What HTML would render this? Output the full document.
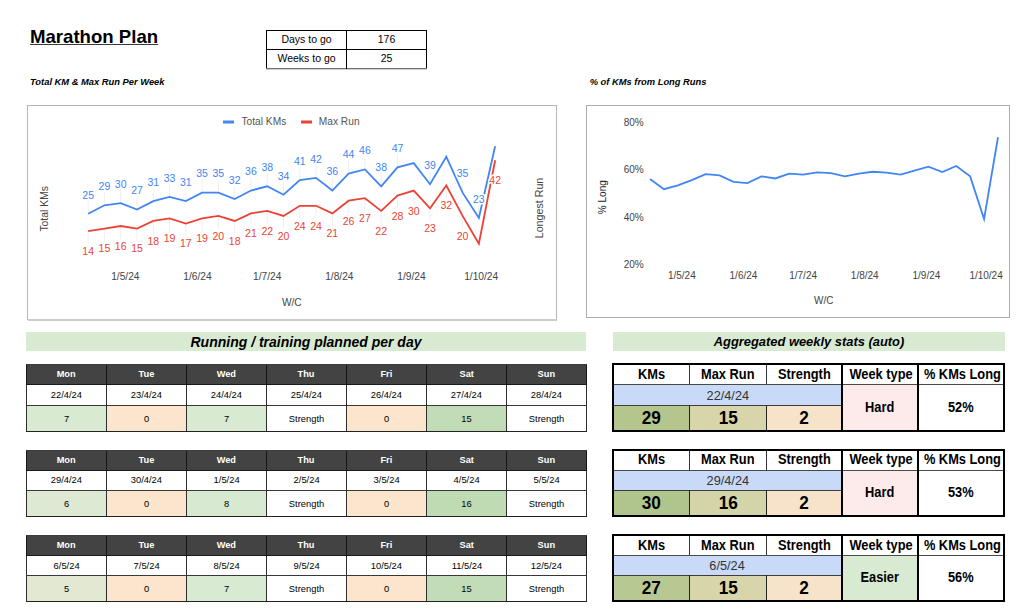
<!DOCTYPE html><html><head><meta charset="utf-8"><title>Marathon Plan</title><style>
*{margin:0;padding:0;box-sizing:border-box}
html,body{width:1023px;height:611px;overflow:hidden;background:#fff}
body{position:relative;font-family:"Liberation Sans", sans-serif;color:#000}
.a{position:absolute}
.c{position:absolute;display:flex;align-items:center;justify-content:center;white-space:nowrap}
svg{position:absolute;left:0;top:0}
.n{display:inline-block;transform:scaleX(0.935)}
.m{display:inline-block;transform:scaleX(0.955)}
.s{display:inline-block;transform:scaleX(0.93)}

</style></head><body>
<div class="a" style="left:30px;top:26px;font-size:18.6px;font-weight:bold;text-decoration:underline;text-decoration-color:#3a3a3a;line-height:22px">Marathon Plan</div>
<div class="a" style="left:266px;top:30px;width:161px;height:38px;border:1px solid #000;border-bottom:0"></div>
<div class="a" style="left:266px;top:68px;width:161px;height:1px;background:#707070"></div>
<div class="a" style="left:266px;top:69px;width:161px;height:1px;background:#d0d0d0"></div>
<div class="a" style="left:266px;top:49px;width:161px;height:1px;background:#000"></div>
<div class="a" style="left:346px;top:30px;width:1px;height:39px;background:#000"></div>
<div class="c" style="left:267px;top:30px;width:79px;height:18px;font-size:10.5px">Days to go</div>
<div class="c" style="left:347px;top:30px;width:79px;height:18px;font-size:10.5px">176</div>
<div class="c" style="left:267px;top:49.3px;width:79px;height:18px;font-size:10.5px">Weeks to go</div>
<div class="c" style="left:347px;top:49.3px;width:79px;height:18px;font-size:10.5px">25</div>
<div class="a" style="left:30px;top:77px;font-size:9.35px;font-weight:bold;font-style:italic;line-height:11px">Total KM &amp; Max Run Per Week</div>
<div class="a" style="left:589.7px;top:77px;font-size:9.35px;font-weight:bold;font-style:italic;line-height:11px">% of KMs from Long Runs</div>
<svg width="1023" height="611" viewBox="0 0 1023 611" style="font-family:"Liberation Sans", sans-serif"><rect x="27.5" y="105.5" width="529" height="214" fill="#fff" stroke="#b5b5b5" stroke-width="1"/><rect x="28" y="319" width="529" height="2" fill="#cbcbcb"/><rect x="586.5" y="105.5" width="423" height="212" fill="#fff" stroke="#ababab" stroke-width="1"/><line x1="88.15" y1="213.75" x2="88.15" y2="200.75" stroke="#efefef" stroke-width="1"/><line x1="104.43" y1="205.31" x2="104.43" y2="192.31" stroke="#efefef" stroke-width="1"/><line x1="120.71" y1="203.2" x2="120.71" y2="190.2" stroke="#efefef" stroke-width="1"/><line x1="136.99" y1="209.53" x2="136.99" y2="196.53" stroke="#efefef" stroke-width="1"/><line x1="153.27" y1="201.09" x2="153.27" y2="188.09" stroke="#efefef" stroke-width="1"/><line x1="169.55" y1="196.87" x2="169.55" y2="183.87" stroke="#efefef" stroke-width="1"/><line x1="185.83" y1="201.09" x2="185.83" y2="188.09" stroke="#efefef" stroke-width="1"/><line x1="202.11" y1="192.65" x2="202.11" y2="179.65" stroke="#efefef" stroke-width="1"/><line x1="218.39" y1="192.65" x2="218.39" y2="179.65" stroke="#efefef" stroke-width="1"/><line x1="234.67" y1="198.98" x2="234.67" y2="185.98" stroke="#efefef" stroke-width="1"/><line x1="250.95" y1="190.54" x2="250.95" y2="177.54" stroke="#efefef" stroke-width="1"/><line x1="267.23" y1="186.32" x2="267.23" y2="173.32" stroke="#efefef" stroke-width="1"/><line x1="283.51" y1="194.76" x2="283.51" y2="181.76" stroke="#efefef" stroke-width="1"/><line x1="299.79" y1="179.99" x2="299.79" y2="166.99" stroke="#efefef" stroke-width="1"/><line x1="316.07" y1="177.88" x2="316.07" y2="164.88" stroke="#efefef" stroke-width="1"/><line x1="332.35" y1="190.54" x2="332.35" y2="177.54" stroke="#efefef" stroke-width="1"/><line x1="348.63" y1="173.66" x2="348.63" y2="160.66" stroke="#efefef" stroke-width="1"/><line x1="364.91" y1="169.44" x2="364.91" y2="156.44" stroke="#efefef" stroke-width="1"/><line x1="381.19" y1="186.32" x2="381.19" y2="173.32" stroke="#efefef" stroke-width="1"/><line x1="397.47" y1="167.33" x2="397.47" y2="154.33" stroke="#efefef" stroke-width="1"/><line x1="430.03" y1="184.21" x2="430.03" y2="171.21" stroke="#efefef" stroke-width="1"/><line x1="462.59" y1="192.65" x2="462.59" y2="179.65" stroke="#efefef" stroke-width="1"/><line x1="478.87" y1="217.97" x2="478.87" y2="204.97" stroke="#efefef" stroke-width="1"/><line x1="88.15" y1="231.08" x2="88.15" y2="244.08" stroke="#efefef" stroke-width="1"/><line x1="104.43" y1="228.55" x2="104.43" y2="241.55" stroke="#efefef" stroke-width="1"/><line x1="120.71" y1="226.02" x2="120.71" y2="239.02" stroke="#efefef" stroke-width="1"/><line x1="136.99" y1="228.55" x2="136.99" y2="241.55" stroke="#efefef" stroke-width="1"/><line x1="153.27" y1="220.96" x2="153.27" y2="233.96" stroke="#efefef" stroke-width="1"/><line x1="169.55" y1="218.43" x2="169.55" y2="231.43" stroke="#efefef" stroke-width="1"/><line x1="185.83" y1="223.49" x2="185.83" y2="236.49" stroke="#efefef" stroke-width="1"/><line x1="202.11" y1="218.43" x2="202.11" y2="231.43" stroke="#efefef" stroke-width="1"/><line x1="218.39" y1="215.9" x2="218.39" y2="228.9" stroke="#efefef" stroke-width="1"/><line x1="234.67" y1="220.96" x2="234.67" y2="233.96" stroke="#efefef" stroke-width="1"/><line x1="250.95" y1="213.37" x2="250.95" y2="226.37" stroke="#efefef" stroke-width="1"/><line x1="267.23" y1="210.84" x2="267.23" y2="223.84" stroke="#efefef" stroke-width="1"/><line x1="283.51" y1="215.9" x2="283.51" y2="228.9" stroke="#efefef" stroke-width="1"/><line x1="299.79" y1="205.78" x2="299.79" y2="218.78" stroke="#efefef" stroke-width="1"/><line x1="316.07" y1="205.78" x2="316.07" y2="218.78" stroke="#efefef" stroke-width="1"/><line x1="332.35" y1="213.37" x2="332.35" y2="226.37" stroke="#efefef" stroke-width="1"/><line x1="348.63" y1="200.72" x2="348.63" y2="213.72" stroke="#efefef" stroke-width="1"/><line x1="364.91" y1="198.19" x2="364.91" y2="211.19" stroke="#efefef" stroke-width="1"/><line x1="381.19" y1="210.84" x2="381.19" y2="223.84" stroke="#efefef" stroke-width="1"/><line x1="397.47" y1="195.66" x2="397.47" y2="208.66" stroke="#efefef" stroke-width="1"/><line x1="413.75" y1="190.6" x2="413.75" y2="203.6" stroke="#efefef" stroke-width="1"/><line x1="430.03" y1="208.31" x2="430.03" y2="221.31" stroke="#efefef" stroke-width="1"/><line x1="446.31" y1="185.54" x2="446.31" y2="198.54" stroke="#efefef" stroke-width="1"/><line x1="462.59" y1="215.9" x2="462.59" y2="228.9" stroke="#efefef" stroke-width="1"/><line x1="495.15" y1="160.24" x2="495.15" y2="173.24" stroke="#efefef" stroke-width="1"/><polyline points="88.15,231.08 104.43,228.55 120.71,226.02 136.99,228.55 153.27,220.96 169.55,218.43 185.83,223.49 202.11,218.43 218.39,215.9 234.67,220.96 250.95,213.37 267.23,210.84 283.51,215.9 299.79,205.78 316.07,205.78 332.35,213.37 348.63,200.72 364.91,198.19 381.19,210.84 397.47,195.66 413.75,190.6 430.03,208.31 446.31,185.54 462.59,215.9 478.87,243.73 495.15,160.24" fill="none" stroke="#ea4335" stroke-width="1.8" stroke-linejoin="miter" stroke-miterlimit="10"/><polyline points="88.15,213.75 104.43,205.31 120.71,203.2 136.99,209.53 153.27,201.09 169.55,196.87 185.83,201.09 202.11,192.65 218.39,192.65 234.67,198.98 250.95,190.54 267.23,186.32 283.51,194.76 299.79,179.99 316.07,177.88 332.35,190.54 348.63,173.66 364.91,169.44 381.19,186.32 397.47,167.33 413.75,163.11 430.03,184.21 446.31,156.78 462.59,192.65 478.87,217.97 495.15,146.23" fill="none" stroke="#4285f4" stroke-width="1.8" stroke-linejoin="miter" stroke-miterlimit="10"/><text x="88.15" y="198.55" font-size="10.5" fill="#4285f4" text-anchor="middle" stroke="#fff" stroke-width="3" stroke-linejoin="round" paint-order="stroke">25</text><text x="104.43" y="190.11" font-size="10.5" fill="#4285f4" text-anchor="middle" stroke="#fff" stroke-width="3" stroke-linejoin="round" paint-order="stroke">29</text><text x="120.71" y="188" font-size="10.5" fill="#4285f4" text-anchor="middle" stroke="#fff" stroke-width="3" stroke-linejoin="round" paint-order="stroke">30</text><text x="136.99" y="194.33" font-size="10.5" fill="#4285f4" text-anchor="middle" stroke="#fff" stroke-width="3" stroke-linejoin="round" paint-order="stroke">27</text><text x="153.27" y="185.89" font-size="10.5" fill="#4285f4" text-anchor="middle" stroke="#fff" stroke-width="3" stroke-linejoin="round" paint-order="stroke">31</text><text x="169.55" y="181.67" font-size="10.5" fill="#4285f4" text-anchor="middle" stroke="#fff" stroke-width="3" stroke-linejoin="round" paint-order="stroke">33</text><text x="185.83" y="185.89" font-size="10.5" fill="#4285f4" text-anchor="middle" stroke="#fff" stroke-width="3" stroke-linejoin="round" paint-order="stroke">31</text><text x="202.11" y="177.45" font-size="10.5" fill="#4285f4" text-anchor="middle" stroke="#fff" stroke-width="3" stroke-linejoin="round" paint-order="stroke">35</text><text x="218.39" y="177.45" font-size="10.5" fill="#4285f4" text-anchor="middle" stroke="#fff" stroke-width="3" stroke-linejoin="round" paint-order="stroke">35</text><text x="234.67" y="183.78" font-size="10.5" fill="#4285f4" text-anchor="middle" stroke="#fff" stroke-width="3" stroke-linejoin="round" paint-order="stroke">32</text><text x="250.95" y="175.34" font-size="10.5" fill="#4285f4" text-anchor="middle" stroke="#fff" stroke-width="3" stroke-linejoin="round" paint-order="stroke">36</text><text x="267.23" y="171.12" font-size="10.5" fill="#4285f4" text-anchor="middle" stroke="#fff" stroke-width="3" stroke-linejoin="round" paint-order="stroke">38</text><text x="283.51" y="179.56" font-size="10.5" fill="#4285f4" text-anchor="middle" stroke="#fff" stroke-width="3" stroke-linejoin="round" paint-order="stroke">34</text><text x="299.79" y="164.79" font-size="10.5" fill="#4285f4" text-anchor="middle" stroke="#fff" stroke-width="3" stroke-linejoin="round" paint-order="stroke">41</text><text x="316.07" y="162.68" font-size="10.5" fill="#4285f4" text-anchor="middle" stroke="#fff" stroke-width="3" stroke-linejoin="round" paint-order="stroke">42</text><text x="332.35" y="175.34" font-size="10.5" fill="#4285f4" text-anchor="middle" stroke="#fff" stroke-width="3" stroke-linejoin="round" paint-order="stroke">36</text><text x="348.63" y="158.46" font-size="10.5" fill="#4285f4" text-anchor="middle" stroke="#fff" stroke-width="3" stroke-linejoin="round" paint-order="stroke">44</text><text x="364.91" y="154.24" font-size="10.5" fill="#4285f4" text-anchor="middle" stroke="#fff" stroke-width="3" stroke-linejoin="round" paint-order="stroke">46</text><text x="381.19" y="171.12" font-size="10.5" fill="#4285f4" text-anchor="middle" stroke="#fff" stroke-width="3" stroke-linejoin="round" paint-order="stroke">38</text><text x="397.47" y="152.13" font-size="10.5" fill="#4285f4" text-anchor="middle" stroke="#fff" stroke-width="3" stroke-linejoin="round" paint-order="stroke">47</text><text x="430.03" y="169.01" font-size="10.5" fill="#4285f4" text-anchor="middle" stroke="#fff" stroke-width="3" stroke-linejoin="round" paint-order="stroke">39</text><text x="462.59" y="177.45" font-size="10.5" fill="#4285f4" text-anchor="middle" stroke="#fff" stroke-width="3" stroke-linejoin="round" paint-order="stroke">35</text><text x="478.87" y="202.77" font-size="10.5" fill="#4285f4" text-anchor="middle" stroke="#fff" stroke-width="3" stroke-linejoin="round" paint-order="stroke">23</text><text x="88.15" y="254.98" font-size="10.5" fill="#ea4335" text-anchor="middle" stroke="#fff" stroke-width="3" stroke-linejoin="round" paint-order="stroke">14</text><text x="104.43" y="252.45" font-size="10.5" fill="#ea4335" text-anchor="middle" stroke="#fff" stroke-width="3" stroke-linejoin="round" paint-order="stroke">15</text><text x="120.71" y="249.92" font-size="10.5" fill="#ea4335" text-anchor="middle" stroke="#fff" stroke-width="3" stroke-linejoin="round" paint-order="stroke">16</text><text x="136.99" y="252.45" font-size="10.5" fill="#ea4335" text-anchor="middle" stroke="#fff" stroke-width="3" stroke-linejoin="round" paint-order="stroke">15</text><text x="153.27" y="244.86" font-size="10.5" fill="#ea4335" text-anchor="middle" stroke="#fff" stroke-width="3" stroke-linejoin="round" paint-order="stroke">18</text><text x="169.55" y="242.33" font-size="10.5" fill="#ea4335" text-anchor="middle" stroke="#fff" stroke-width="3" stroke-linejoin="round" paint-order="stroke">19</text><text x="185.83" y="247.39" font-size="10.5" fill="#ea4335" text-anchor="middle" stroke="#fff" stroke-width="3" stroke-linejoin="round" paint-order="stroke">17</text><text x="202.11" y="242.33" font-size="10.5" fill="#ea4335" text-anchor="middle" stroke="#fff" stroke-width="3" stroke-linejoin="round" paint-order="stroke">19</text><text x="218.39" y="239.8" font-size="10.5" fill="#ea4335" text-anchor="middle" stroke="#fff" stroke-width="3" stroke-linejoin="round" paint-order="stroke">20</text><text x="234.67" y="244.86" font-size="10.5" fill="#ea4335" text-anchor="middle" stroke="#fff" stroke-width="3" stroke-linejoin="round" paint-order="stroke">18</text><text x="250.95" y="237.27" font-size="10.5" fill="#ea4335" text-anchor="middle" stroke="#fff" stroke-width="3" stroke-linejoin="round" paint-order="stroke">21</text><text x="267.23" y="234.74" font-size="10.5" fill="#ea4335" text-anchor="middle" stroke="#fff" stroke-width="3" stroke-linejoin="round" paint-order="stroke">22</text><text x="283.51" y="239.8" font-size="10.5" fill="#ea4335" text-anchor="middle" stroke="#fff" stroke-width="3" stroke-linejoin="round" paint-order="stroke">20</text><text x="299.79" y="229.68" font-size="10.5" fill="#ea4335" text-anchor="middle" stroke="#fff" stroke-width="3" stroke-linejoin="round" paint-order="stroke">24</text><text x="316.07" y="229.68" font-size="10.5" fill="#ea4335" text-anchor="middle" stroke="#fff" stroke-width="3" stroke-linejoin="round" paint-order="stroke">24</text><text x="332.35" y="237.27" font-size="10.5" fill="#ea4335" text-anchor="middle" stroke="#fff" stroke-width="3" stroke-linejoin="round" paint-order="stroke">21</text><text x="348.63" y="224.62" font-size="10.5" fill="#ea4335" text-anchor="middle" stroke="#fff" stroke-width="3" stroke-linejoin="round" paint-order="stroke">26</text><text x="364.91" y="222.09" font-size="10.5" fill="#ea4335" text-anchor="middle" stroke="#fff" stroke-width="3" stroke-linejoin="round" paint-order="stroke">27</text><text x="381.19" y="234.74" font-size="10.5" fill="#ea4335" text-anchor="middle" stroke="#fff" stroke-width="3" stroke-linejoin="round" paint-order="stroke">22</text><text x="397.47" y="219.56" font-size="10.5" fill="#ea4335" text-anchor="middle" stroke="#fff" stroke-width="3" stroke-linejoin="round" paint-order="stroke">28</text><text x="413.75" y="214.5" font-size="10.5" fill="#ea4335" text-anchor="middle" stroke="#fff" stroke-width="3" stroke-linejoin="round" paint-order="stroke">30</text><text x="430.03" y="232.21" font-size="10.5" fill="#ea4335" text-anchor="middle" stroke="#fff" stroke-width="3" stroke-linejoin="round" paint-order="stroke">23</text><text x="446.31" y="209.44" font-size="10.5" fill="#ea4335" text-anchor="middle" stroke="#fff" stroke-width="3" stroke-linejoin="round" paint-order="stroke">32</text><text x="462.59" y="239.8" font-size="10.5" fill="#ea4335" text-anchor="middle" stroke="#fff" stroke-width="3" stroke-linejoin="round" paint-order="stroke">20</text><text x="495.15" y="184.14" font-size="10.5" fill="#ea4335" text-anchor="middle" stroke="#fff" stroke-width="3" stroke-linejoin="round" paint-order="stroke">42</text><rect x="223" y="120.5" width="11" height="3" fill="#4285f4"/><text x="241.5" y="125.1" font-size="10.2" fill="#555">Total KMs</text><rect x="301" y="120.5" width="11" height="3" fill="#ea4335"/><text x="318.8" y="125.1" font-size="10.2" fill="#555">Max Run</text><text transform="translate(48,208.8) rotate(-90)" font-size="10.4" fill="#444" text-anchor="middle">Total KMs</text><text transform="translate(542.7,208) rotate(-90)" font-size="10.7" fill="#444" text-anchor="middle">Longest Run</text><text x="125.36" y="279.8" font-size="10.2" fill="#444" text-anchor="middle">1/5/24</text><text x="197.46" y="279.8" font-size="10.2" fill="#444" text-anchor="middle">1/6/24</text><text x="267.23" y="279.8" font-size="10.2" fill="#444" text-anchor="middle">1/7/24</text><text x="339.33" y="279.8" font-size="10.2" fill="#444" text-anchor="middle">1/8/24</text><text x="411.42" y="279.8" font-size="10.2" fill="#444" text-anchor="middle">1/9/24</text><text x="481.2" y="279.8" font-size="10.2" fill="#444" text-anchor="middle">1/10/24</text><text x="291.8" y="305.8" font-size="10.2" fill="#444" text-anchor="middle">W/C</text><text x="643.7" y="125.9" font-size="10" fill="#444" text-anchor="end">80%</text><text x="643.7" y="173.2" font-size="10" fill="#444" text-anchor="end">60%</text><text x="643.7" y="220.5" font-size="10" fill="#444" text-anchor="end">40%</text><text x="643.7" y="267.8" font-size="10" fill="#444" text-anchor="end">20%</text><text transform="translate(605.8,197.2) rotate(-90)" font-size="10" fill="#222" text-anchor="middle">% Long</text><text x="681.82" y="278.6" font-size="10" fill="#444" text-anchor="middle">1/5/24</text><text x="743.46" y="278.6" font-size="10" fill="#444" text-anchor="middle">1/6/24</text><text x="803.12" y="278.6" font-size="10" fill="#444" text-anchor="middle">1/7/24</text><text x="864.77" y="278.6" font-size="10" fill="#444" text-anchor="middle">1/8/24</text><text x="926.41" y="278.6" font-size="10" fill="#444" text-anchor="middle">1/9/24</text><text x="986.07" y="278.6" font-size="10" fill="#444" text-anchor="middle">1/10/24</text><text x="823.8" y="304" font-size="10" fill="#444" text-anchor="middle">W/C</text><polyline points="650,179.06 663.92,189.17 677.84,185.37 691.76,180.11 705.68,174.18 719.6,175.33 733.52,181.81 747.44,183.11 761.36,176.36 775.28,178.47 789.2,173.54 803.12,174.58 817.04,172.38 830.96,173.06 844.88,176.36 858.8,173.54 872.72,171.75 886.64,172.68 900.56,174.58 914.48,170.61 928.4,166.7 942.32,172.03 956.24,165.96 970.16,176.36 984.08,218.96 998,137.24" fill="none" stroke="#4285f4" stroke-width="1.8" stroke-linejoin="miter" stroke-miterlimit="10"/></svg>
<div class="c" style="left:26px;top:332px;width:560px;height:19px;background:#d9ead3;font-size:14px;font-weight:bold;font-style:italic">Running / training planned per day</div>
<div class="c" style="left:613px;top:332px;width:392px;height:19px;background:#d9ead3;font-size:12.9px;font-weight:bold;font-style:italic">Aggregated weekly stats (auto)</div>
<div class="a" style="left:26px;top:364px;width:561px;height:21px;background:#434343"></div>
<div class="a" style="left:26px;top:405px;width:81px;height:26px;background:#d9ead3"></div>
<div class="a" style="left:106px;top:405px;width:81px;height:26px;background:#fce5cd"></div>
<div class="a" style="left:186px;top:405px;width:81px;height:26px;background:#d9ead3"></div>
<div class="a" style="left:266px;top:405px;width:81px;height:26px;background:#fff"></div>
<div class="a" style="left:346px;top:405px;width:81px;height:26px;background:#fce5cd"></div>
<div class="a" style="left:426px;top:405px;width:81px;height:26px;background:#c2dcb8"></div>
<div class="a" style="left:506px;top:405px;width:81px;height:26px;background:#fff"></div>
<div class="a" style="left:26px;top:364px;width:561px;height:1px;background:#3c3c3c"></div>
<div class="a" style="left:26px;top:384px;width:561px;height:1px;background:#1a1a1a"></div>
<div class="a" style="left:26px;top:405px;width:561px;height:1px;background:#383838"></div>
<div class="a" style="left:26px;top:431px;width:561px;height:1px;background:#222"></div>
<div class="a" style="left:26px;top:365px;width:1px;height:20px;background:#151515"></div>
<div class="a" style="left:26px;top:385px;width:1px;height:46px;background:#2e2e2e"></div>
<div class="a" style="left:106px;top:365px;width:1px;height:20px;background:#151515"></div>
<div class="a" style="left:106px;top:385px;width:1px;height:46px;background:#2e2e2e"></div>
<div class="a" style="left:186px;top:365px;width:1px;height:20px;background:#151515"></div>
<div class="a" style="left:186px;top:385px;width:1px;height:46px;background:#2e2e2e"></div>
<div class="a" style="left:266px;top:365px;width:1px;height:20px;background:#151515"></div>
<div class="a" style="left:266px;top:385px;width:1px;height:46px;background:#2e2e2e"></div>
<div class="a" style="left:346px;top:365px;width:1px;height:20px;background:#151515"></div>
<div class="a" style="left:346px;top:385px;width:1px;height:46px;background:#2e2e2e"></div>
<div class="a" style="left:426px;top:365px;width:1px;height:20px;background:#151515"></div>
<div class="a" style="left:426px;top:385px;width:1px;height:46px;background:#2e2e2e"></div>
<div class="a" style="left:506px;top:365px;width:1px;height:20px;background:#151515"></div>
<div class="a" style="left:506px;top:385px;width:1px;height:46px;background:#2e2e2e"></div>
<div class="a" style="left:586px;top:365px;width:1px;height:20px;background:#151515"></div>
<div class="a" style="left:586px;top:385px;width:1px;height:46px;background:#2e2e2e"></div>
<div class="c" style="left:27px;top:364.3px;width:79px;height:19px;font-size:9.9px;font-weight:bold;color:#fff"><span class="n">Mon</span></div>
<div class="c" style="left:27px;top:384.6px;width:79px;height:20px;font-size:9.8px"><span class="m">22/4/24</span></div>
<div class="c" style="left:27px;top:405.5px;width:79px;height:25px;font-size:9.8px"><span class="m">7</span></div>
<div class="c" style="left:107px;top:364.3px;width:79px;height:19px;font-size:9.9px;font-weight:bold;color:#fff"><span class="n">Tue</span></div>
<div class="c" style="left:107px;top:384.6px;width:79px;height:20px;font-size:9.8px"><span class="m">23/4/24</span></div>
<div class="c" style="left:107px;top:405.5px;width:79px;height:25px;font-size:9.8px"><span class="m">0</span></div>
<div class="c" style="left:187px;top:364.3px;width:79px;height:19px;font-size:9.9px;font-weight:bold;color:#fff"><span class="n">Wed</span></div>
<div class="c" style="left:187px;top:384.6px;width:79px;height:20px;font-size:9.8px"><span class="m">24/4/24</span></div>
<div class="c" style="left:187px;top:405.5px;width:79px;height:25px;font-size:9.8px"><span class="m">7</span></div>
<div class="c" style="left:267px;top:364.3px;width:79px;height:19px;font-size:9.9px;font-weight:bold;color:#fff"><span class="n">Thu</span></div>
<div class="c" style="left:267px;top:384.6px;width:79px;height:20px;font-size:9.8px"><span class="m">25/4/24</span></div>
<div class="c" style="left:267px;top:405.5px;width:79px;height:25px;font-size:9.8px"><span class="m">Strength</span></div>
<div class="c" style="left:347px;top:364.3px;width:79px;height:19px;font-size:9.9px;font-weight:bold;color:#fff"><span class="n">Fri</span></div>
<div class="c" style="left:347px;top:384.6px;width:79px;height:20px;font-size:9.8px"><span class="m">26/4/24</span></div>
<div class="c" style="left:347px;top:405.5px;width:79px;height:25px;font-size:9.8px"><span class="m">0</span></div>
<div class="c" style="left:427px;top:364.3px;width:79px;height:19px;font-size:9.9px;font-weight:bold;color:#fff"><span class="n">Sat</span></div>
<div class="c" style="left:427px;top:384.6px;width:79px;height:20px;font-size:9.8px"><span class="m">27/4/24</span></div>
<div class="c" style="left:427px;top:405.5px;width:79px;height:25px;font-size:9.8px"><span class="m">15</span></div>
<div class="c" style="left:507px;top:364.3px;width:79px;height:19px;font-size:9.9px;font-weight:bold;color:#fff"><span class="n">Sun</span></div>
<div class="c" style="left:507px;top:384.6px;width:79px;height:20px;font-size:9.8px"><span class="m">28/4/24</span></div>
<div class="c" style="left:507px;top:405.5px;width:79px;height:25px;font-size:9.8px"><span class="m">Strength</span></div>
<div class="a" style="left:26px;top:450px;width:561px;height:20.6px;background:#434343"></div>
<div class="a" style="left:26px;top:490px;width:81px;height:26px;background:#dee9d3"></div>
<div class="a" style="left:106px;top:490px;width:81px;height:26px;background:#fce5cd"></div>
<div class="a" style="left:186px;top:490px;width:81px;height:26px;background:#d7e9d1"></div>
<div class="a" style="left:266px;top:490px;width:81px;height:26px;background:#fff"></div>
<div class="a" style="left:346px;top:490px;width:81px;height:26px;background:#fce5cd"></div>
<div class="a" style="left:426px;top:490px;width:81px;height:26px;background:#bfdbb3"></div>
<div class="a" style="left:506px;top:490px;width:81px;height:26px;background:#fff"></div>
<div class="a" style="left:26px;top:450px;width:561px;height:1px;background:#3c3c3c"></div>
<div class="a" style="left:26px;top:469.6px;width:561px;height:1px;background:#1a1a1a"></div>
<div class="a" style="left:26px;top:490px;width:561px;height:1px;background:#383838"></div>
<div class="a" style="left:26px;top:516px;width:561px;height:1px;background:#222"></div>
<div class="a" style="left:26px;top:451px;width:1px;height:19.6px;background:#151515"></div>
<div class="a" style="left:26px;top:470.6px;width:1px;height:45.4px;background:#2e2e2e"></div>
<div class="a" style="left:106px;top:451px;width:1px;height:19.6px;background:#151515"></div>
<div class="a" style="left:106px;top:470.6px;width:1px;height:45.4px;background:#2e2e2e"></div>
<div class="a" style="left:186px;top:451px;width:1px;height:19.6px;background:#151515"></div>
<div class="a" style="left:186px;top:470.6px;width:1px;height:45.4px;background:#2e2e2e"></div>
<div class="a" style="left:266px;top:451px;width:1px;height:19.6px;background:#151515"></div>
<div class="a" style="left:266px;top:470.6px;width:1px;height:45.4px;background:#2e2e2e"></div>
<div class="a" style="left:346px;top:451px;width:1px;height:19.6px;background:#151515"></div>
<div class="a" style="left:346px;top:470.6px;width:1px;height:45.4px;background:#2e2e2e"></div>
<div class="a" style="left:426px;top:451px;width:1px;height:19.6px;background:#151515"></div>
<div class="a" style="left:426px;top:470.6px;width:1px;height:45.4px;background:#2e2e2e"></div>
<div class="a" style="left:506px;top:451px;width:1px;height:19.6px;background:#151515"></div>
<div class="a" style="left:506px;top:470.6px;width:1px;height:45.4px;background:#2e2e2e"></div>
<div class="a" style="left:586px;top:451px;width:1px;height:19.6px;background:#151515"></div>
<div class="a" style="left:586px;top:470.6px;width:1px;height:45.4px;background:#2e2e2e"></div>
<div class="c" style="left:27px;top:450.3px;width:79px;height:18.6px;font-size:9.9px;font-weight:bold;color:#fff"><span class="n">Mon</span></div>
<div class="c" style="left:27px;top:470.2px;width:79px;height:19.4px;font-size:9.8px"><span class="m">29/4/24</span></div>
<div class="c" style="left:27px;top:490.5px;width:79px;height:25px;font-size:9.8px"><span class="m">6</span></div>
<div class="c" style="left:107px;top:450.3px;width:79px;height:18.6px;font-size:9.9px;font-weight:bold;color:#fff"><span class="n">Tue</span></div>
<div class="c" style="left:107px;top:470.2px;width:79px;height:19.4px;font-size:9.8px"><span class="m">30/4/24</span></div>
<div class="c" style="left:107px;top:490.5px;width:79px;height:25px;font-size:9.8px"><span class="m">0</span></div>
<div class="c" style="left:187px;top:450.3px;width:79px;height:18.6px;font-size:9.9px;font-weight:bold;color:#fff"><span class="n">Wed</span></div>
<div class="c" style="left:187px;top:470.2px;width:79px;height:19.4px;font-size:9.8px"><span class="m">1/5/24</span></div>
<div class="c" style="left:187px;top:490.5px;width:79px;height:25px;font-size:9.8px"><span class="m">8</span></div>
<div class="c" style="left:267px;top:450.3px;width:79px;height:18.6px;font-size:9.9px;font-weight:bold;color:#fff"><span class="n">Thu</span></div>
<div class="c" style="left:267px;top:470.2px;width:79px;height:19.4px;font-size:9.8px"><span class="m">2/5/24</span></div>
<div class="c" style="left:267px;top:490.5px;width:79px;height:25px;font-size:9.8px"><span class="m">Strength</span></div>
<div class="c" style="left:347px;top:450.3px;width:79px;height:18.6px;font-size:9.9px;font-weight:bold;color:#fff"><span class="n">Fri</span></div>
<div class="c" style="left:347px;top:470.2px;width:79px;height:19.4px;font-size:9.8px"><span class="m">3/5/24</span></div>
<div class="c" style="left:347px;top:490.5px;width:79px;height:25px;font-size:9.8px"><span class="m">0</span></div>
<div class="c" style="left:427px;top:450.3px;width:79px;height:18.6px;font-size:9.9px;font-weight:bold;color:#fff"><span class="n">Sat</span></div>
<div class="c" style="left:427px;top:470.2px;width:79px;height:19.4px;font-size:9.8px"><span class="m">4/5/24</span></div>
<div class="c" style="left:427px;top:490.5px;width:79px;height:25px;font-size:9.8px"><span class="m">16</span></div>
<div class="c" style="left:507px;top:450.3px;width:79px;height:18.6px;font-size:9.9px;font-weight:bold;color:#fff"><span class="n">Sun</span></div>
<div class="c" style="left:507px;top:470.2px;width:79px;height:19.4px;font-size:9.8px"><span class="m">5/5/24</span></div>
<div class="c" style="left:507px;top:490.5px;width:79px;height:25px;font-size:9.8px"><span class="m">Strength</span></div>
<div class="a" style="left:26px;top:535px;width:561px;height:21px;background:#434343"></div>
<div class="a" style="left:26px;top:575px;width:81px;height:26px;background:#e3e8d3"></div>
<div class="a" style="left:106px;top:575px;width:81px;height:26px;background:#fce5cd"></div>
<div class="a" style="left:186px;top:575px;width:81px;height:26px;background:#d9ead3"></div>
<div class="a" style="left:266px;top:575px;width:81px;height:26px;background:#fff"></div>
<div class="a" style="left:346px;top:575px;width:81px;height:26px;background:#fce5cd"></div>
<div class="a" style="left:426px;top:575px;width:81px;height:26px;background:#c2dcb8"></div>
<div class="a" style="left:506px;top:575px;width:81px;height:26px;background:#fff"></div>
<div class="a" style="left:26px;top:535px;width:561px;height:1px;background:#3c3c3c"></div>
<div class="a" style="left:26px;top:555px;width:561px;height:1px;background:#1a1a1a"></div>
<div class="a" style="left:26px;top:575px;width:561px;height:1px;background:#383838"></div>
<div class="a" style="left:26px;top:601px;width:561px;height:1px;background:#222"></div>
<div class="a" style="left:26px;top:536px;width:1px;height:20px;background:#151515"></div>
<div class="a" style="left:26px;top:556px;width:1px;height:45px;background:#2e2e2e"></div>
<div class="a" style="left:106px;top:536px;width:1px;height:20px;background:#151515"></div>
<div class="a" style="left:106px;top:556px;width:1px;height:45px;background:#2e2e2e"></div>
<div class="a" style="left:186px;top:536px;width:1px;height:20px;background:#151515"></div>
<div class="a" style="left:186px;top:556px;width:1px;height:45px;background:#2e2e2e"></div>
<div class="a" style="left:266px;top:536px;width:1px;height:20px;background:#151515"></div>
<div class="a" style="left:266px;top:556px;width:1px;height:45px;background:#2e2e2e"></div>
<div class="a" style="left:346px;top:536px;width:1px;height:20px;background:#151515"></div>
<div class="a" style="left:346px;top:556px;width:1px;height:45px;background:#2e2e2e"></div>
<div class="a" style="left:426px;top:536px;width:1px;height:20px;background:#151515"></div>
<div class="a" style="left:426px;top:556px;width:1px;height:45px;background:#2e2e2e"></div>
<div class="a" style="left:506px;top:536px;width:1px;height:20px;background:#151515"></div>
<div class="a" style="left:506px;top:556px;width:1px;height:45px;background:#2e2e2e"></div>
<div class="a" style="left:586px;top:536px;width:1px;height:20px;background:#151515"></div>
<div class="a" style="left:586px;top:556px;width:1px;height:45px;background:#2e2e2e"></div>
<div class="c" style="left:27px;top:535.3px;width:79px;height:19px;font-size:9.9px;font-weight:bold;color:#fff"><span class="n">Mon</span></div>
<div class="c" style="left:27px;top:555.6px;width:79px;height:19px;font-size:9.8px"><span class="m">6/5/24</span></div>
<div class="c" style="left:27px;top:575.5px;width:79px;height:25px;font-size:9.8px"><span class="m">5</span></div>
<div class="c" style="left:107px;top:535.3px;width:79px;height:19px;font-size:9.9px;font-weight:bold;color:#fff"><span class="n">Tue</span></div>
<div class="c" style="left:107px;top:555.6px;width:79px;height:19px;font-size:9.8px"><span class="m">7/5/24</span></div>
<div class="c" style="left:107px;top:575.5px;width:79px;height:25px;font-size:9.8px"><span class="m">0</span></div>
<div class="c" style="left:187px;top:535.3px;width:79px;height:19px;font-size:9.9px;font-weight:bold;color:#fff"><span class="n">Wed</span></div>
<div class="c" style="left:187px;top:555.6px;width:79px;height:19px;font-size:9.8px"><span class="m">8/5/24</span></div>
<div class="c" style="left:187px;top:575.5px;width:79px;height:25px;font-size:9.8px"><span class="m">7</span></div>
<div class="c" style="left:267px;top:535.3px;width:79px;height:19px;font-size:9.9px;font-weight:bold;color:#fff"><span class="n">Thu</span></div>
<div class="c" style="left:267px;top:555.6px;width:79px;height:19px;font-size:9.8px"><span class="m">9/5/24</span></div>
<div class="c" style="left:267px;top:575.5px;width:79px;height:25px;font-size:9.8px"><span class="m">Strength</span></div>
<div class="c" style="left:347px;top:535.3px;width:79px;height:19px;font-size:9.9px;font-weight:bold;color:#fff"><span class="n">Fri</span></div>
<div class="c" style="left:347px;top:555.6px;width:79px;height:19px;font-size:9.8px"><span class="m">10/5/24</span></div>
<div class="c" style="left:347px;top:575.5px;width:79px;height:25px;font-size:9.8px"><span class="m">0</span></div>
<div class="c" style="left:427px;top:535.3px;width:79px;height:19px;font-size:9.9px;font-weight:bold;color:#fff"><span class="n">Sat</span></div>
<div class="c" style="left:427px;top:555.6px;width:79px;height:19px;font-size:9.8px"><span class="m">11/5/24</span></div>
<div class="c" style="left:427px;top:575.5px;width:79px;height:25px;font-size:9.8px"><span class="m">15</span></div>
<div class="c" style="left:507px;top:535.3px;width:79px;height:19px;font-size:9.9px;font-weight:bold;color:#fff"><span class="n">Sun</span></div>
<div class="c" style="left:507px;top:555.6px;width:79px;height:19px;font-size:9.8px"><span class="m">12/5/24</span></div>
<div class="c" style="left:507px;top:575.5px;width:79px;height:25px;font-size:9.8px"><span class="m">Strength</span></div>
<div class="a" style="left:612px;top:364px;width:393px;height:68px;background:#fff"></div>
<div class="a" style="left:612px;top:384px;width:230px;height:21px;background:#c9daf8"></div>
<div class="a" style="left:612px;top:405px;width:77px;height:26px;background:#b4c68e"></div>
<div class="a" style="left:689px;top:405px;width:77px;height:26px;background:#d8d5aa"></div>
<div class="a" style="left:766px;top:405px;width:76px;height:26px;background:#f6e3c9"></div>
<div class="a" style="left:842px;top:384px;width:76px;height:47px;background:#fdeaea"></div>
<div class="a" style="left:612px;top:384px;width:393px;height:1px;background:#4a4a4a"></div>
<div class="a" style="left:612px;top:405px;width:230px;height:1px;background:#3c3c3c"></div>
<div class="a" style="left:689px;top:364px;width:1px;height:20px;background:#333"></div>
<div class="a" style="left:766px;top:364px;width:1px;height:20px;background:#333"></div>
<div class="a" style="left:689px;top:405px;width:1px;height:26px;background:#222"></div>
<div class="a" style="left:766px;top:405px;width:1px;height:26px;background:#222"></div>
<div class="a" style="left:612px;top:363px;width:393px;height:2px;background:#000"></div>
<div class="a" style="left:612px;top:430px;width:393px;height:2px;background:#000"></div>
<div class="a" style="left:612px;top:363px;width:2px;height:69px;background:#000"></div>
<div class="a" style="left:841px;top:363px;width:2px;height:69px;background:#000"></div>
<div class="a" style="left:917px;top:363px;width:2px;height:69px;background:#000"></div>
<div class="a" style="left:1003px;top:363px;width:2px;height:69px;background:#000"></div>
<div class="c" style="left:614px;top:365px;width:75px;height:18px;font-size:13.8px;font-weight:bold"><span class="s">KMs</span></div>
<div class="c" style="left:690px;top:365px;width:76px;height:18px;font-size:13.8px;font-weight:bold"><span class="s">Max Run</span></div>
<div class="c" style="left:767px;top:365px;width:75px;height:18px;font-size:13.8px;font-weight:bold"><span class="s">Strength</span></div>
<div class="c" style="left:843px;top:365px;width:75px;height:18px;font-size:13.8px;font-weight:bold"><span class="s">Week type</span></div>
<div class="c" style="left:919px;top:365px;width:86px;height:18px;font-size:13.8px;font-weight:bold"><span class="s">% KMs Long</span></div>
<div class="c" style="left:614px;top:385px;width:227px;height:20px;font-size:13.7px;color:#333"><span class="s">22/4/24</span></div>
<div class="c" style="left:614px;top:406px;width:75px;height:24px;font-size:18.5px;font-weight:bold"><span class="s">29</span></div>
<div class="c" style="left:690px;top:406px;width:76px;height:24px;font-size:18.5px;font-weight:bold"><span class="s">15</span></div>
<div class="c" style="left:767px;top:406px;width:75px;height:24px;font-size:18.5px;font-weight:bold"><span class="s">2</span></div>
<div class="c" style="left:843px;top:384.9px;width:74px;height:45px;font-size:13.8px;font-weight:bold"><span class="s">Hard</span></div>
<div class="c" style="left:919px;top:384.9px;width:84px;height:45px;font-size:13.8px;font-weight:bold"><span class="s">52%</span></div>
<div class="a" style="left:612px;top:450px;width:393px;height:67px;background:#fff"></div>
<div class="a" style="left:612px;top:469.6px;width:230px;height:20.4px;background:#c9daf8"></div>
<div class="a" style="left:612px;top:490px;width:77px;height:26px;background:#b0c58c"></div>
<div class="a" style="left:689px;top:490px;width:77px;height:26px;background:#d3d4a8"></div>
<div class="a" style="left:766px;top:490px;width:76px;height:26px;background:#f6e3c9"></div>
<div class="a" style="left:842px;top:469.6px;width:76px;height:46.4px;background:#fdeaea"></div>
<div class="a" style="left:612px;top:469.6px;width:393px;height:1px;background:#4a4a4a"></div>
<div class="a" style="left:612px;top:490px;width:230px;height:1px;background:#3c3c3c"></div>
<div class="a" style="left:689px;top:450px;width:1px;height:19.6px;background:#333"></div>
<div class="a" style="left:766px;top:450px;width:1px;height:19.6px;background:#333"></div>
<div class="a" style="left:689px;top:490px;width:1px;height:26px;background:#222"></div>
<div class="a" style="left:766px;top:490px;width:1px;height:26px;background:#222"></div>
<div class="a" style="left:612px;top:449px;width:393px;height:2px;background:#000"></div>
<div class="a" style="left:612px;top:515px;width:393px;height:2px;background:#000"></div>
<div class="a" style="left:612px;top:449px;width:2px;height:68px;background:#000"></div>
<div class="a" style="left:841px;top:449px;width:2px;height:68px;background:#000"></div>
<div class="a" style="left:917px;top:449px;width:2px;height:68px;background:#000"></div>
<div class="a" style="left:1003px;top:449px;width:2px;height:68px;background:#000"></div>
<div class="c" style="left:614px;top:451px;width:75px;height:17.6px;font-size:13.8px;font-weight:bold"><span class="s">KMs</span></div>
<div class="c" style="left:690px;top:451px;width:76px;height:17.6px;font-size:13.8px;font-weight:bold"><span class="s">Max Run</span></div>
<div class="c" style="left:767px;top:451px;width:75px;height:17.6px;font-size:13.8px;font-weight:bold"><span class="s">Strength</span></div>
<div class="c" style="left:843px;top:451px;width:75px;height:17.6px;font-size:13.8px;font-weight:bold"><span class="s">Week type</span></div>
<div class="c" style="left:919px;top:451px;width:86px;height:17.6px;font-size:13.8px;font-weight:bold"><span class="s">% KMs Long</span></div>
<div class="c" style="left:614px;top:470.6px;width:227px;height:19.4px;font-size:13.7px;color:#333"><span class="s">29/4/24</span></div>
<div class="c" style="left:614px;top:491px;width:75px;height:24px;font-size:18.5px;font-weight:bold"><span class="s">30</span></div>
<div class="c" style="left:690px;top:491px;width:76px;height:24px;font-size:18.5px;font-weight:bold"><span class="s">16</span></div>
<div class="c" style="left:767px;top:491px;width:75px;height:24px;font-size:18.5px;font-weight:bold"><span class="s">2</span></div>
<div class="c" style="left:843px;top:470.5px;width:74px;height:44.4px;font-size:13.8px;font-weight:bold"><span class="s">Hard</span></div>
<div class="c" style="left:919px;top:470.5px;width:84px;height:44.4px;font-size:13.8px;font-weight:bold"><span class="s">53%</span></div>
<div class="a" style="left:612px;top:535px;width:393px;height:67px;background:#fff"></div>
<div class="a" style="left:612px;top:555px;width:230px;height:20px;background:#c9daf8"></div>
<div class="a" style="left:612px;top:575px;width:77px;height:26px;background:#b8c893"></div>
<div class="a" style="left:689px;top:575px;width:77px;height:26px;background:#d8d5aa"></div>
<div class="a" style="left:766px;top:575px;width:76px;height:26px;background:#f6e3c9"></div>
<div class="a" style="left:842px;top:555px;width:76px;height:46px;background:#d9ead3"></div>
<div class="a" style="left:612px;top:555px;width:393px;height:1px;background:#4a4a4a"></div>
<div class="a" style="left:612px;top:575px;width:230px;height:1px;background:#3c3c3c"></div>
<div class="a" style="left:689px;top:535px;width:1px;height:20px;background:#333"></div>
<div class="a" style="left:766px;top:535px;width:1px;height:20px;background:#333"></div>
<div class="a" style="left:689px;top:575px;width:1px;height:26px;background:#222"></div>
<div class="a" style="left:766px;top:575px;width:1px;height:26px;background:#222"></div>
<div class="a" style="left:612px;top:534px;width:393px;height:2px;background:#000"></div>
<div class="a" style="left:612px;top:600px;width:393px;height:2px;background:#000"></div>
<div class="a" style="left:612px;top:534px;width:2px;height:68px;background:#000"></div>
<div class="a" style="left:841px;top:534px;width:2px;height:68px;background:#000"></div>
<div class="a" style="left:917px;top:534px;width:2px;height:68px;background:#000"></div>
<div class="a" style="left:1003px;top:534px;width:2px;height:68px;background:#000"></div>
<div class="c" style="left:614px;top:536px;width:75px;height:18px;font-size:13.8px;font-weight:bold"><span class="s">KMs</span></div>
<div class="c" style="left:690px;top:536px;width:76px;height:18px;font-size:13.8px;font-weight:bold"><span class="s">Max Run</span></div>
<div class="c" style="left:767px;top:536px;width:75px;height:18px;font-size:13.8px;font-weight:bold"><span class="s">Strength</span></div>
<div class="c" style="left:843px;top:536px;width:75px;height:18px;font-size:13.8px;font-weight:bold"><span class="s">Week type</span></div>
<div class="c" style="left:919px;top:536px;width:86px;height:18px;font-size:13.8px;font-weight:bold"><span class="s">% KMs Long</span></div>
<div class="c" style="left:614px;top:556px;width:227px;height:19px;font-size:13.7px;color:#333"><span class="s">6/5/24</span></div>
<div class="c" style="left:614px;top:576px;width:75px;height:24px;font-size:18.5px;font-weight:bold"><span class="s">27</span></div>
<div class="c" style="left:690px;top:576px;width:76px;height:24px;font-size:18.5px;font-weight:bold"><span class="s">15</span></div>
<div class="c" style="left:767px;top:576px;width:75px;height:24px;font-size:18.5px;font-weight:bold"><span class="s">2</span></div>
<div class="c" style="left:843px;top:555.9px;width:74px;height:44px;font-size:13.8px;font-weight:bold"><span class="s">Easier</span></div>
<div class="c" style="left:919px;top:555.9px;width:84px;height:44px;font-size:13.8px;font-weight:bold"><span class="s">56%</span></div>
</body></html>
